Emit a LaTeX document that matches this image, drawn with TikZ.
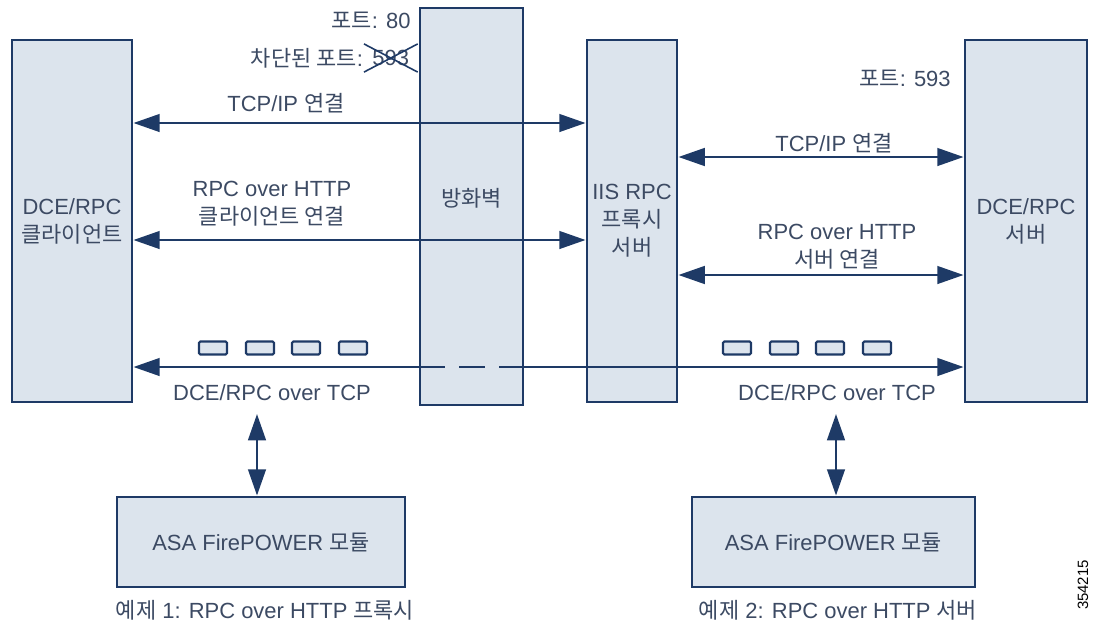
\documentclass[tikz,border=0pt]{standalone}
\usepackage{fontspec}
\setmainfont{Liberation Sans}
\newfontfamily\krfont{Noto Sans CJK KR}
\newcommand{\kr}[1]{{\krfont #1}}
\usetikzlibrary{positioning, arrows.meta, calc}
\definecolor{ink}{HTML}{1E3A66}
\definecolor{txt}{HTML}{3C4A63}
\definecolor{tint}{HTML}{DCE4ED}
\tikzset{
  box/.style={draw=ink, line width=1.6pt, fill=tint, text=txt, align=center,
    font=\fontsize{12.5}{16}\selectfont, inner sep=0pt},
  pkt/.style={draw=ink, line width=1.2pt, fill=tint, rounded corners=0.8pt,
    minimum width=0.56cm, minimum height=0.26cm, inner sep=0pt},
  tip/.tip={Triangle[length=15pt, width=10pt]},
  dflow/.style={tip-tip, line width=1.6pt, color=ink},
  lflow/.style={tip-, line width=1.6pt, color=ink},
  rflow/.style={-tip, line width=1.6pt, color=ink},
  lbl/.style={text=txt, font=\fontsize{12.5}{16}\selectfont, align=center, inner sep=0pt},
}

\begin{document}
\begin{tikzpicture}[x=0.02cm, y=-0.02cm]
  \useasboundingbox (0,0) rectangle (1095,629);
  % boxes
  \node[box, minimum width=2.4cm, minimum height=7.24cm] (client) at (72,221) {DCE/RPC\\\kr{클라이언트}};
  \node[box, minimum width=2.06cm, minimum height=7.94cm] (fw) at (471.5,206.5) {\raisebox{10pt}{\kr{방화벽}}};
  \node[box, minimum width=1.8cm, minimum height=7.24cm] (proxy) at (632,221) {IIS RPC\\\kr{프록시}\\\kr{서버}};
  \node[box, minimum width=2.44cm, minimum height=7.24cm] (server) at (1026,221) {DCE/RPC\\\kr{서버}};
  \node[box, minimum width=5.76cm, minimum height=1.8cm] (asa1) at (261,542) {ASA FirePOWER \kr{모듈}};
  \node[box, minimum width=5.66cm, minimum height=1.8cm] (asa2) at (833.5,542) {ASA FirePOWER \kr{모듈}};

  % ports
  \node[lbl, anchor=east] (port80) at (411,20) {\kr{포트}: 80};
  \node[lbl, anchor=east, inner sep=2pt] (p593) at (413,58) {593};
  \node[lbl, left=3pt of p593] (blocked) {\kr{차단된 포트}:};
  \draw[ink, line width=0.9pt, shorten <=-3pt, shorten >=-3pt] (p593.south west) -- (p593.north east);
  \draw[ink, line width=0.9pt, shorten <=-3pt, shorten >=-3pt] (p593.north west) -- (p593.south east);
  \node[lbl] (port593) at (905,78) {\kr{포트}: 593};

  % rows
  \coordinate (r1) at (0,123);
  \coordinate (r2) at (0,240);
  \coordinate (r3) at (0,157);
  \coordinate (r4) at (0,275);
  \coordinate (r5) at (0,367);
  \draw[dflow] (client.east |- r1) -- (proxy.west |- r1);
  \draw[dflow] (client.east |- r2) -- (proxy.west |- r2);
  \draw[dflow] (proxy.east |- r3) -- (server.west |- r3);
  \draw[dflow] (proxy.east |- r4) -- (server.west |- r4);
  \node[lbl] (tcpA) at (286,103) {TCP/IP \kr{연결}};
  \node[lbl] (httpA) at (272,204) {RPC over HTTP\\\kr{클라이언트 연결}};
  \node[lbl] (tcpB) at (834,143) {TCP/IP \kr{연결}};
  \node[lbl] (httpB) at (837,247) {RPC over HTTP\\\kr{서버 연결}};

  % DCE/RPC over TCP
  \draw[lflow] (client.east |- r5) -- (fw.west |- r5);
  \draw[ink, line width=1.6pt, dash pattern=on 15pt off 8pt] (fw.west |- r5) -- (fw.east |- r5);
  \draw[rflow] (fw.east |- r5) -- (server.west |- r5);
  \foreach \x in {213,260,306,353,737,784,830,877}
    \node[pkt] at (\x,348) {};
  \node[lbl] (tcpL) at (272,393) {DCE/RPC over TCP};
  \node[lbl] (tcpR) at (837,393) {DCE/RPC over TCP};

  % to the modules
  \coordinate (v1) at (257,414);
  \coordinate (v2) at (836,414);
  \draw[dflow] (v1) -- (v1 |- asa1.north);
  \draw[dflow] (v2) -- (v2 |- asa2.north);

  \node[lbl] (cap1) at (265,610) {\kr{예제} 1: RPC over HTTP \kr{프록시}};
  \node[lbl] (cap2) at (838,610) {\kr{예제} 2: RPC over HTTP \kr{서버}};
  \node[rotate=90, font=\fontsize{8.5}{10}\selectfont] (fig) at (1083,585) {354215};
\end{tikzpicture}
\end{document}
